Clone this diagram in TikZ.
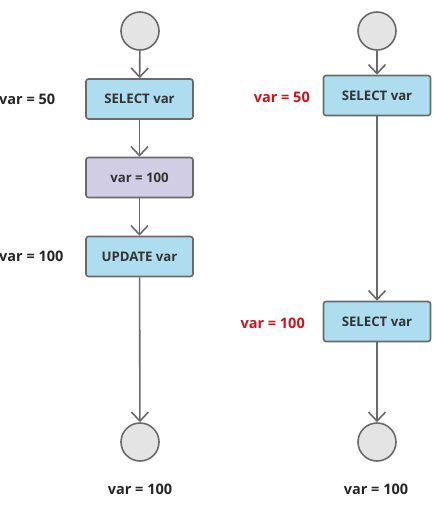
\documentclass[tikz,border=0pt]{standalone}
\usepackage{fontspec}
\setmainfont{Open Sans}
\usetikzlibrary{arrows.meta}
\definecolor{boxblue}{HTML}{AEDDEF}
\definecolor{boxpurple}{HTML}{D1CDE4}
\definecolor{edge}{HTML}{6A6A6A}
\definecolor{circfill}{HTML}{E4E4E4}
\definecolor{txt}{HTML}{333333}
\definecolor{redlab}{HTML}{D0121B}
\tikzset{
  proc/.style={draw=edge, line width=1.6pt, rounded corners=2.5pt, minimum width=107pt, minimum height=40pt, inner sep=0pt, font=\fontsize{13.2}{15}\selectfont\bfseries, text=txt},
  blue/.style={proc, fill=boxblue},
  purple/.style={proc, fill=boxpurple},
  state/.style={circle, draw=edge, line width=1.6pt, fill=circfill, minimum size=38pt, inner sep=0pt},
  lab/.style={font=\fontsize{14.5}{16}\selectfont\bfseries, text=black!85, inner sep=0pt},
  redl/.style={lab, text=redlab},
  flow/.style={draw=edge, line width=1.6pt, -{Straight Barb[length=9pt,width=17pt,line width=1.6pt]}}
}
\begin{document}
\begin{tikzpicture}[x=1pt,y=-1pt]
\useasboundingbox (0,0) rectangle (432,508);
% left column
\node[state] (l0) at (140,31) {};
\node[blue] (l1) at (139.5,99) {SELECT var};
\node[purple] (l2) at (139.5,177.5) {var = 100};
\node[blue] (l3) at (139.5,256.5) {UPDATE var};
\node[state] (l4) at (140,442) {};
\draw[flow] (l0) -- (l1);
\draw[flow] (l1) -- (l2);
\draw[flow] (l2) -- (l3);
\draw[flow] (l3) -- (l4);
\node[lab, anchor=west] (la) at (-1,99) {var = 50};
\node[lab, anchor=west] (lb) at (-1,256) {var = 100};
\node[lab] (lc) at (140,489) {var = 100};
% right column
\node[state] (r0) at (377,31) {};
\node[blue] (r1) at (377,95.5) {SELECT var};
\node[blue] (r2) at (377,321.5) {SELECT var};
\node[state] (r3) at (377,442) {};
\draw[flow] (r0) -- (r1);
\draw[flow] (r1) -- (r2);
\draw[flow] (r2) -- (r3);
\node[redl, anchor=east] (ra) at (310,97) {var = 50};
\node[redl, anchor=east] (rb) at (305,323) {var = 100};
\node[lab] (rc) at (376,489) {var = 100};
\end{tikzpicture}
\end{document}
